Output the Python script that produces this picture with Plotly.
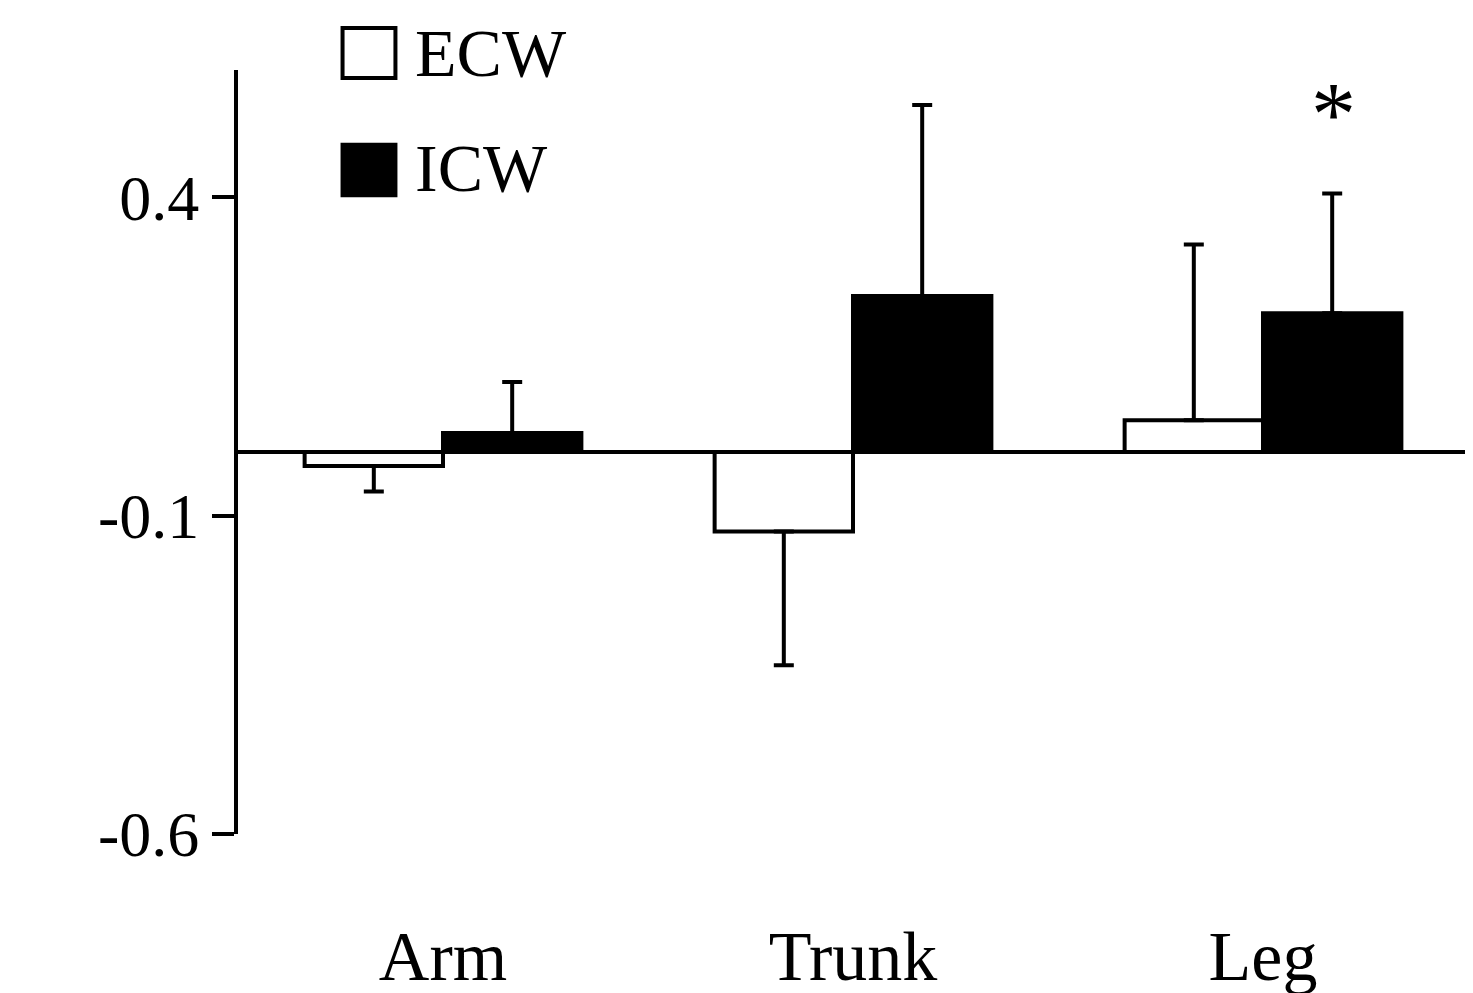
import plotly.graph_objects as go

categories = ["Arm", "Trunk", "Leg"]
ecw = [-0.022, -0.125, 0.05]
ecw_err = [0.04, 0.21, 0.276]
icw = [0.03, 0.245, 0.218]
icw_err = [0.08, 0.30, 0.188]

def split(vals, errs):
    plus = [e if v >= 0 else 0 for v, e in zip(vals, errs)]
    minus = [e if v < 0 else 0 for v, e in zip(vals, errs)]
    return plus, minus

FONT = "Liberation Serif"
fig = go.Figure()
for name, vals, errs, fill in [("ECW", ecw, ecw_err, "white"), ("ICW", icw, icw_err, "black")]:
    p, m = split(vals, errs)
    fig.add_trace(go.Bar(x=categories, y=vals, name=name,
        marker=dict(color=fill, line=dict(color="black", width=4)),
        error_y=dict(type="data", symmetric=False, array=p, arrayminus=m,
                     color="black", thickness=4, width=10)))

fig.add_annotation(x="Leg", y=0.53, text="*", showarrow=False, xshift=70,
                   font=dict(family=FONT, size=90, color="black"))

# legend
for name, fill, y0, y1, yt in [("ECW", "white", 0.9895, 1.055, 1.022),
                               ("ICW", "black", 0.836, 0.902, 0.872)]:
    fig.add_shape(type="rect", xref="paper", yref="paper",
                  x0=0.085, x1=0.128, y0=y0, y1=y1,
                  fillcolor=fill, line=dict(color="black", width=4))
    fig.add_annotation(xref="paper", yref="paper", x=0.142, y=yt, text=name,
                       showarrow=False, xanchor="left", yanchor="middle",
                       font=dict(family=FONT, size=68, color="black"))

fig.update_layout(
    width=1473, height=993, barmode="group", bargap=0.325, bargroupgap=0,
    showlegend=False, plot_bgcolor="white", paper_bgcolor="white",
    margin=dict(l=230, r=13, t=62, b=167),
    font=dict(family=FONT, size=64, color="black"),
)
fig.update_xaxes(showline=False, showgrid=False, ticks="", ticklabelstandoff=75,
                 tickfont=dict(size=70), automargin=False)
fig.update_yaxes(range=[-0.6, 0.6], tickvals=[-0.6, -0.1, 0.4], ticktext=["-0.6", "-0.1", "0.4"],
                 showline=True, linecolor="black", linewidth=4, ticks="outside",
                 ticklen=22, tickwidth=4, tickcolor="black", showgrid=False,
                 zeroline=True, zerolinecolor="black", zerolinewidth=4,
                 tickfont=dict(size=64), automargin=False)
fig.write_html("out.html")
